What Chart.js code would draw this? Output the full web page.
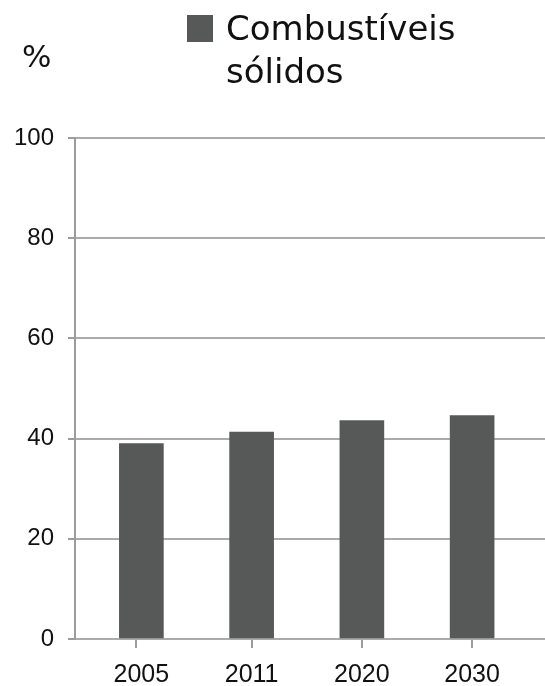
<!DOCTYPE html>
<html>
<head>
<meta charset="utf-8">
<style>
  html, body { margin: 0; padding: 0; background: #fff; }
  #wrap { width: 545px; height: 686px; position: relative; }
</style>
<script src="https://cdn.jsdelivr.net/npm/chart.js@4.4.1/dist/chart.umd.min.js"></script>
</head>
<body>
<div id="wrap"><canvas id="chart" width="545" height="686"></canvas></div>
<script>
var years = ['2005', '2011', '2020', '2030'];
var solidFuels = [39, 41.3, 43.6, 44.6];
var yTicks = [0, 20, 40, 60, 80, 100];
var seriesLabel = ['Combustíveis', 'sólidos'];
var unitLabel = '%';

var barColor = '#575958';
var gridColor = '#ababab';
var textColor = '#111111';

// x runs on a linear index scale so the first category can sit a bit
// right of the y axis, as in the original
var xMin = -0.602;
var xMax = 3.661;

var boundaryTicks = [xMin];
for (var i = 0; i < years.length - 1; i++) {
    boundaryTicks.push(i + 0.5);
}

// legend and unit label drawn on the canvas
var headerPlugin = {
    id: 'header',
    afterDraw: function (chart) {
        var ctx = chart.ctx;
        var ds = chart.data.datasets[0];
        ctx.save();
        ctx.fillStyle = ds.backgroundColor;
        ctx.fillRect(187, 15, 26, 27);
        ctx.fillStyle = textColor;
        ctx.font = '34px "DejaVu Sans"';
        ctx.textBaseline = 'alphabetic';
        ctx.textAlign = 'left';
        ds.label.forEach(function (line, k) {
            ctx.fillText(line, 226, 40 + k * 43);
        });
        ctx.font = '31px "DejaVu Sans"';
        ctx.fillText(unitLabel, 22, 67);
        ctx.restore();
    }
};

new Chart(document.getElementById('chart'), {
    type: 'bar',
    data: {
        datasets: [{
            label: seriesLabel,
            data: solidFuels.map(function (v, k) { return { x: k, y: v }; }),
            backgroundColor: barColor,
            borderWidth: 0,
            barThickness: 44
        }]
    },
    options: {
        responsive: false,
        animation: false,
        events: [],
        layout: { padding: { top: 138, right: 0, bottom: 4, left: 0 } },
        plugins: {
            legend: { display: false },
            tooltip: { enabled: false }
        },
        scales: {
            x: {
                type: 'linear',
                position: 'bottom',
                weight: 2,
                min: xMin,
                max: xMax,
                offset: false,
                afterBuildTicks: function (axis) {
                    axis.ticks = years.map(function (y, k) { return { value: k }; });
                },
                afterFit: function (axis) { axis.height = 34; },
                grid: { display: false, drawTicks: false },
                border: { display: false },
                ticks: {
                    padding: 12,
                    color: textColor,
                    font: { family: '"Liberation Sans", Arial', size: 25 },
                    maxRotation: 0,
                    autoSkip: false,
                    callback: function (v) { return years[v]; }
                }
            },
            x2: {
                type: 'linear',
                position: 'bottom',
                weight: 1,
                min: xMin,
                max: xMax,
                offset: false,
                afterBuildTicks: function (axis) {
                    axis.ticks = boundaryTicks.map(function (v) { return { value: v }; });
                },
                afterFit: function (axis) { axis.height = 9; },
                grid: {
                    drawOnChartArea: false,
                    color: '#9c9c9c',
                    lineWidth: 2,
                    tickLength: 9
                },
                border: { display: false },
                ticks: { display: false }
            },
            y: {
                min: 0,
                max: 100,
                afterBuildTicks: function (axis) {
                    axis.ticks = yTicks.map(function (v) { return { value: v }; });
                },
                afterFit: function (axis) { axis.width = 75; },
                grid: {
                    color: gridColor,
                    lineWidth: 2,
                    tickLength: 7,
                    tickColor: '#9c9c9c'
                },
                border: { color: '#9c9c9c', width: 2 },
                ticks: {
                    padding: 14,
                    color: textColor,
                    font: { family: '"Liberation Sans", Arial', size: 24 }
                }
            }
        }
    },
    plugins: [headerPlugin]
});
</script>
</body>
</html>
